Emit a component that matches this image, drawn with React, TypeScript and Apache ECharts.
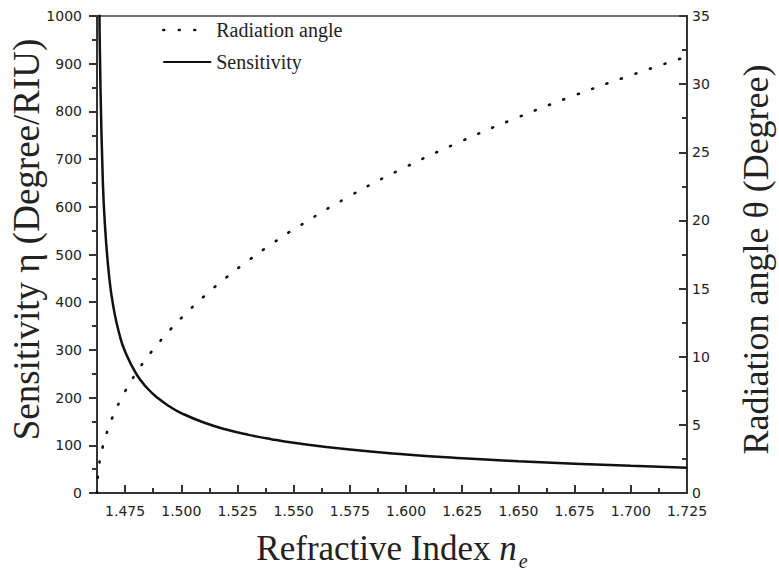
import React, { useEffect, useRef } from "react";
import * as echarts from "echarts";

// Refractive index samples (x)
const refractiveIndex = [
  1.4625, 1.463, 1.4635, 1.464, 1.465, 1.466, 1.468, 1.47, 1.4725, 1.475,
  1.48, 1.485, 1.49, 1.495, 1.5, 1.51, 1.52, 1.53, 1.54, 1.55, 1.575, 1.6,
  1.625, 1.65, 1.675, 1.7, 1.725,
];
// Sensitivity η (Degree/RIU), left axis
const sensitivity = [
  null, 1497.6, 1058.5, 863.9, 668.6, 564.6, 449.6, 384.4, 332.2, 296.5,
  249.5, 219.1, 197.4, 180.8, 167.6, 147.7, 133.1, 121.9, 112.8, 105.3, 91.0,
  80.7, 72.8, 66.5, 61.3, 56.9, 53.1,
];
// Radiation angle θ (Degree), right axis
const radiationAngle = [
  0, 1.5, 2.12, 2.59, 3.35, 3.96, 4.96, 5.79, 6.68, 7.47, 8.82, 9.99, 11.03,
  11.97, 12.84, 14.41, 15.81, 17.08, 18.25, 19.34, 21.79, 23.93, 25.84, 27.58,
  29.18, 30.65, 32.03,
];

const xMajorTicks = [1.475, 1.5, 1.525, 1.55, 1.575, 1.6, 1.625, 1.65, 1.675, 1.7, 1.725];
const xMinorTicks = [1.4875, 1.5125, 1.5375, 1.5625, 1.5875, 1.6125, 1.6375, 1.6625, 1.6875, 1.7125];

const SERIF = "'Liberation Serif', 'Times New Roman', serif";
const SANS = "'DejaVu Sans', sans-serif";
const AXIS_COLOR = "#333";

export default function App() {
  const ref = useRef<HTMLDivElement>(null);

  useEffect(() => {
    if (!ref.current) return;
    const chart = echarts.init(ref.current, null, { renderer: "svg" });

    const sensData = refractiveIndex.map((n, i) => [n, sensitivity[i]]);
    const angleData = refractiveIndex.map((n, i) => [n, radiationAngle[i]]);

    const option: any = {
      animation: false,
      backgroundColor: "#fff",
      grid: {
        left: 97,
        right: 92,
        top: 16,
        bottom: 84,
        containLabel: false,
        outerBoundsMode: "none",
        show: true,
        borderColor: "#444",
        borderWidth: 1.5,
        backgroundColor: "transparent",
      },
      legend: {
        orient: "vertical",
        left: 162,
        top: 20,
        padding: 0,
        itemWidth: 48,
        itemHeight: 20,
        itemGap: 12,
        itemStyle: { opacity: 0 },
        textStyle: { fontFamily: SERIF, fontSize: 20, color: "#222" },
        data: [
          {
            name: "Radiation angle",
            itemStyle: { opacity: 0 },
            lineStyle: {
              type: [1, 14.5, 1, 14.5, 1, 40],
              width: 2.5,
              cap: "round",
              color: "#111",
            },
          },
          { name: "Sensitivity", itemStyle: { opacity: 0 } },
        ],
      },
      xAxis: [
        {
          type: "value",
          min: 1.4625,
          max: 1.725,
          name: "Refractive Index {i|n}{s|e}",
          nameLocation: "middle",
          nameGap: 32,
          nameMoveOverlap: false,
          nameTextStyle: {
            fontFamily: SERIF,
            fontSize: 35,
            color: "#222",
            rich: {
              i: { fontFamily: SERIF, fontSize: 35, fontStyle: "italic", color: "#222" },
              s: {
                fontFamily: SERIF,
                fontSize: 20,
                fontStyle: "italic",
                color: "#222",
                padding: [26, 0, 0, 2],
              },
            },
          },
          axisLine: { show: true, lineStyle: { color: AXIS_COLOR, width: 2 } },
          axisTick: {
            show: true,
            inside: true,
            length: 8,
            customValues: xMajorTicks,
            lineStyle: { color: AXIS_COLOR, width: 2 },
          },
          axisLabel: {
            show: true,
            customValues: xMajorTicks,
            margin: 11,
            fontFamily: SANS,
            fontSize: 14,
            color: "#222",
            formatter: (v: number) => v.toFixed(3),
          },
          splitLine: { show: false },
        },
        {
          type: "value",
          min: 1.4625,
          max: 1.725,
          position: "bottom",
          axisLine: { show: false },
          axisTick: {
            show: true,
            inside: true,
            length: 5,
            customValues: xMinorTicks,
            lineStyle: { color: AXIS_COLOR, width: 2 },
          },
          axisLabel: { show: false },
          splitLine: { show: false },
        },
      ],
      yAxis: [
        {
          type: "value",
          min: 0,
          max: 1000,
          interval: 100,
          position: "left",
          name: "Sensitivity η (Degree/RIU)",
          nameLocation: "middle",
          nameRotate: 90,
          nameGap: 52,
          nameMoveOverlap: false,
          nameTextStyle: {
            fontFamily: SERIF,
            fontSize: 37,
            color: "#222",
            padding: [0, 0, 0, 30],
          },
          axisLine: { show: true, lineStyle: { color: AXIS_COLOR, width: 2 } },
          axisTick: { show: true, inside: false, length: 8, lineStyle: { color: AXIS_COLOR, width: 2 } },
          minorTick: { show: true, splitNumber: 2, length: 5, lineStyle: { color: AXIS_COLOR, width: 2 } },
          axisLabel: {
            margin: 15,
            fontFamily: SANS,
            fontSize: 14,
            color: "#222",
            formatter: (v: number) => String(v),
          },
          splitLine: { show: false },
        },
        {
          type: "value",
          min: 0,
          max: 35,
          interval: 5,
          position: "right",
          name: "Radiation angle θ (Degree)",
          nameLocation: "middle",
          nameRotate: 90,
          nameGap: 51,
          nameMoveOverlap: false,
          nameTextStyle: {
            fontFamily: SERIF,
            fontSize: 36,
            color: "#222",
            padding: [0, 10, 0, 0],
          },
          axisLine: { show: true, lineStyle: { color: AXIS_COLOR, width: 2 } },
          axisTick: { show: true, inside: true, length: 8, lineStyle: { color: AXIS_COLOR, width: 2 } },
          minorTick: { show: true, splitNumber: 2, length: 5, lineStyle: { color: AXIS_COLOR, width: 2 } },
          axisLabel: {
            margin: 5,
            fontFamily: SANS,
            fontSize: 14,
            color: "#222",
            formatter: (v: number) => String(v),
          },
          splitLine: { show: false },
        },
      ],
      series: [
        {
          name: "Radiation angle",
          type: "line",
          xAxisIndex: 0,
          yAxisIndex: 1,
          data: angleData,
          smooth: 0.5,
          symbol: "none",
          lineStyle: { color: "#111", width: 2.6, type: [1, 14.3], cap: "round" },
          itemStyle: { color: "#111" },
        },
        {
          name: "Sensitivity",
          type: "line",
          xAxisIndex: 0,
          yAxisIndex: 0,
          data: sensData,
          smooth: 0.5,
          symbol: "none",
          connectNulls: false,
          lineStyle: { color: "#111", width: 2.5 },
          itemStyle: { color: "#111" },
        },
      ],
    };

    chart.setOption(option);
    return () => chart.dispose();
  }, []);

  return (
    <div
      ref={ref}
      style={{ position: "absolute", left: 0, top: 0, width: 779, height: 577 }}
    />
  );
}
